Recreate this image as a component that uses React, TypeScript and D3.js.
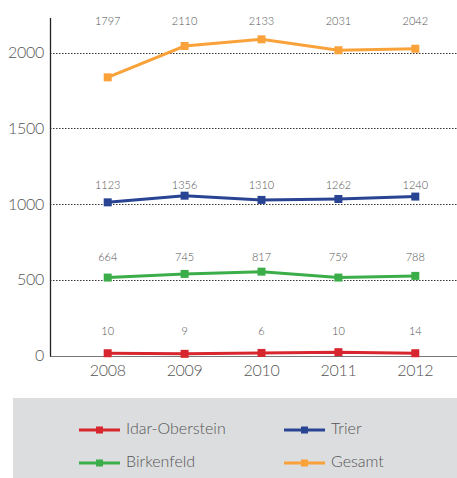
import React from 'react';
import { useRef, useEffect } from 'react';
import * as d3 from 'd3';

// years on the x axis
const years = ["2008", "2009", "2010", "2011", "2012"];
const yTicks = [0, 500, 1000, 1500, 2000];

// plotted values (as drawn in the chart)
const idarValues = [15, 11, 17, 22, 15];
const birkenfeldValues = [515, 539, 554, 515, 526];
const trierValues = [1012, 1056, 1028, 1034, 1050];
const gesamtValues = [1838, 2045, 2089, 2017, 2027];

// value labels printed above each series
const idarLabels = [10, 9, 6, 10, 14];
const birkenfeldLabels = [664, 745, 817, 759, 788];
const trierLabels = [1123, 1356, 1310, 1262, 1240];
const gesamtLabels = [1797, 2110, 2133, 2031, 2042];

const seriesNames = ["Idar-Oberstein", "Trier", "Birkenfeld", "Gesamt"];

const chartStyle = {
  width: 457,
  height: 478,
  margin: { top: 18, left: 50, bottom: 122, right: 0 },
  fontFamily: "Lato, 'Open Sans', sans-serif",
  textColor: "#555",
  gridColor: "#333",
  baseColor: "#777",
  legendFill: "#dcdddf",
  strokeWidth: 3,
  markerSize: 8,
};

interface Series {
  name: string;
  color: string;
  values: number[];
  labels: number[];
  labelLevel: number; // y value (in data units) where the labels sit
}

const series: Series[] = [
  { name: seriesNames[3], color: "#f9a23a", values: gesamtValues, labels: gesamtLabels, labelLevel: 2210 },
  { name: seriesNames[1], color: "#2a4494", values: trierValues, labels: trierLabels, labelLevel: 1123 },
  { name: seriesNames[2], color: "#3cae49", values: birkenfeldValues, labels: birkenfeldLabels, labelLevel: 647 },
  { name: seriesNames[0], color: "#d7262e", values: idarValues, labels: idarLabels, labelLevel: 158 },
];

const TrendChart: React.FC = () => {
  const svgRef = useRef<SVGSVGElement>(null);

  useEffect(() => {
    if (!svgRef.current) return;
    const { width, height, margin } = chartStyle;
    const svg = d3.select(svgRef.current);
    svg.selectAll("*").remove();

    const xScale = d3.scalePoint<string>()
      .domain(years)
      .range([107.7, 415.3]);

    const yScale = d3.scaleLinear()
      .domain([0, 2230])
      .range([height - margin.bottom - 0.5, margin.top]);

    // gridlines
    svg.append("g")
      .selectAll("line")
      .data(yTicks.filter(d => d > 0))
      .join("line")
      .attr("x1", margin.left)
      .attr("x2", width)
      .attr("y1", d => Math.round(yScale(d)) + 0.5)
      .attr("y2", d => Math.round(yScale(d)) + 0.5)
      .attr("stroke", chartStyle.gridColor)
      .attr("stroke-width", 1)
      .attr("stroke-dasharray", "1.5,1.5");

    // baseline
    const y0 = Math.round(yScale(0)) + 0.5;
    svg.append("line")
      .attr("x1", margin.left).attr("x2", width)
      .attr("y1", y0).attr("y2", y0)
      .attr("stroke", chartStyle.baseColor)
      .attr("stroke-width", 1.2);

    // y axis line
    svg.append("line")
      .attr("x1", margin.left + 0.5).attr("x2", margin.left + 0.5)
      .attr("y1", margin.top).attr("y2", y0)
      .attr("stroke", "#222")
      .attr("stroke-width", 1.3);

    // y tick labels
    svg.append("g")
      .selectAll("text")
      .data(yTicks)
      .join("text")
      .attr("x", margin.left - 6)
      .attr("y", d => yScale(d))
      .attr("dy", "0.35em")
      .attr("text-anchor", "end")
      .attr("font-family", chartStyle.fontFamily)
      .attr("font-size", 16)
      .attr("font-weight", 300)
      .attr("letter-spacing", "-0.3")
      .attr("fill", chartStyle.textColor)
      .text(d => d);

    // x tick labels
    svg.append("g")
      .selectAll("text")
      .data(years)
      .join("text")
      .attr("x", d => xScale(d)!)
      .attr("y", y0 + 19)
      .attr("text-anchor", "middle")
      .attr("font-family", chartStyle.fontFamily)
      .attr("font-size", 16)
      .attr("font-weight", 300)
      .attr("letter-spacing", "-0.3")
      .attr("fill", chartStyle.textColor)
      .text(d => d);

    const line = d3.line<number>()
      .x((_, i) => xScale(years[i])!)
      .y(d => yScale(d));

    series.forEach(s => {
      const g = svg.append("g");
      g.append("path")
        .datum(s.values)
        .attr("fill", "none")
        .attr("stroke", s.color)
        .attr("stroke-width", chartStyle.strokeWidth)
        .attr("d", line);
      g.selectAll("rect")
        .data(s.values)
        .join("rect")
        .attr("x", (_, i) => xScale(years[i])! - chartStyle.markerSize / 2)
        .attr("y", d => yScale(d) - chartStyle.markerSize / 2)
        .attr("width", chartStyle.markerSize)
        .attr("height", chartStyle.markerSize)
        .attr("fill", s.color);
      g.selectAll("text")
        .data(s.labels)
        .join("text")
        .attr("x", (_, i) => xScale(years[i])!)
        .attr("y", yScale(s.labelLevel))
        .attr("dy", "0.35em")
        .attr("text-anchor", "middle")
        .attr("font-family", chartStyle.fontFamily)
        .attr("font-size", 11)
        .attr("font-weight", 300)
        .attr("fill", chartStyle.textColor)
        .text(d => d);
    });

    // legend
    const legendTop = 398;
    svg.append("rect")
      .attr("x", 13).attr("y", legendTop)
      .attr("width", width - 13).attr("height", height - legendTop)
      .attr("fill", chartStyle.legendFill);

    const legendOrder = [seriesNames[0], seriesNames[1], seriesNames[2], seriesNames[3]];
    const legendX = [79, 284];
    const legendY = [430, 463];
    legendOrder.forEach((name, i) => {
      const s = series.find(d => d.name === name)!;
      const lx = legendX[i % 2];
      const ly = legendY[Math.floor(i / 2)];
      const g = svg.append("g").attr("transform", `translate(${lx},${ly})`);
      g.append("line")
        .attr("x1", 0).attr("x2", 41)
        .attr("y1", 0).attr("y2", 0)
        .attr("stroke", s.color)
        .attr("stroke-width", chartStyle.strokeWidth);
      g.append("rect")
        .attr("x", 20.5 - 3.5).attr("y", -3.5)
        .attr("width", 7).attr("height", 7)
        .attr("fill", s.color);
      g.append("text")
        .attr("x", 47)
        .attr("y", -2)
        .attr("dy", "0.35em")
        .attr("font-family", chartStyle.fontFamily)
        .attr("font-size", 16)
        .attr("font-weight", 300)
        .attr("fill", chartStyle.textColor)
        .text(name);
    });
  }, []);

  return (
    <svg
      ref={svgRef}
      width={chartStyle.width}
      height={chartStyle.height}
      style={{ position: "absolute", left: 0, top: 0, background: "#fff" }}
    />
  );
};

export default function App() {
  return <TrendChart />;
}
